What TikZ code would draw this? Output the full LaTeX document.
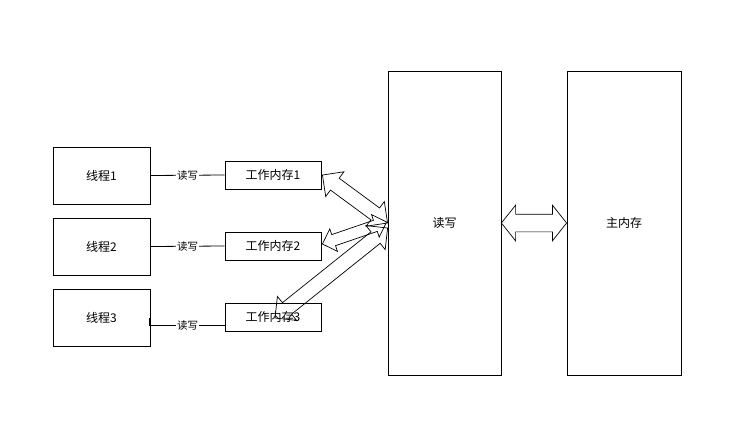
\documentclass[tikz,border=0pt]{standalone}
\usepackage{fontspec}
\setmainfont{Noto Sans CJK SC}
\usetikzlibrary{arrows.meta,positioning,shapes.arrows,calc}

\tikzset{
  box/.style={draw,line width=0.8pt,inner sep=0pt,font=\fontsize{12}{14}\selectfont},
  thread/.style={box,minimum width=97pt,minimum height=57pt},
  workmem/.style={box,minimum width=96pt,minimum height=28pt},
  tallbox/.style={box,minimum width=113pt,minimum height=304pt},
  rwlabel/.style={fill=white,inner sep=1pt,font=\fontsize{10.5}{12}\selectfont},
  dblar/.style={double arrow,draw,line width=0.7pt,inner xsep=0pt,inner ysep=7pt,
    minimum width=0pt,double arrow head extend=8pt,double arrow tip angle=90},
}
\newcommand\dblarrow[3][]{%
  \path let \p1=($(#3)-(#2)$), \n1={veclen(\x1,\y1)} in
    (#2) -- (#3) node[dblar,midway,sloped,minimum height=\n1,#1]{};}

\begin{document}
\begin{tikzpicture}[x=1pt,y=-1pt]
  \useasboundingbox (0,0) rectangle (752,434);
  % threads and their working memory
  \node[thread] (t1) at (101.5,175.5) {线程1};
  \node[thread] (t2) at (101.5,246.5) {线程2};
  \node[thread] (t3) at (101.5,317.5) {线程3};
  \node[workmem] (wm1) at (273,175) {工作内存1};
  \node[workmem] (wm2) at (273,246) {工作内存2};
  \node[workmem] (wm3) at (273,317) {工作内存3};
  \node[tallbox] (rw) at (444.5,223) {读写};
  \node[tallbox,minimum width=114pt] (mm) at (624,223) {主内存};
  % read/write links
  \draw[line width=0.8pt] (t1.east) -- node[rwlabel]{读写} (wm1.west);
  \draw[line width=0.8pt] (t2.east) -- node[rwlabel]{读写} (wm2.west);
  \coordinate (t3a) at ($(t3.east)+(0,8)$);
  \draw[line width=1.6pt] ($(t3.east)+(-0.5,0.5)$) -- ($(t3a)+(-0.5,0)$);
  \draw[line width=0.8pt] (t3a) -- node[rwlabel]{读写} (wm3.west |- t3a);
  % hollow double arrows
  \coordinate (a1) at ($(wm1.east)+(1,0)$);
  \coordinate (a2) at ($(wm2.east)+(1,-2)$);
  \coordinate (a3) at ($(wm3.center)+(2,1)$);
  \coordinate (b1) at (rw.west);
  \coordinate (b2) at ($(rw.west)+(-1,-1)$);
  \coordinate (b3) at ($(rw.west)+(0,5)$);
  \dblarrow{a1}{b1}
  \dblarrow[inner ysep=5.5pt,double arrow head extend=6pt]{a2}{b2}
  \dblarrow{a3}{b3}
  \dblarrow[inner ysep=8.5pt,double arrow head extend=9pt,double arrow tip angle=103]{rw.east}{mm.west}
\end{tikzpicture}
\end{document}
